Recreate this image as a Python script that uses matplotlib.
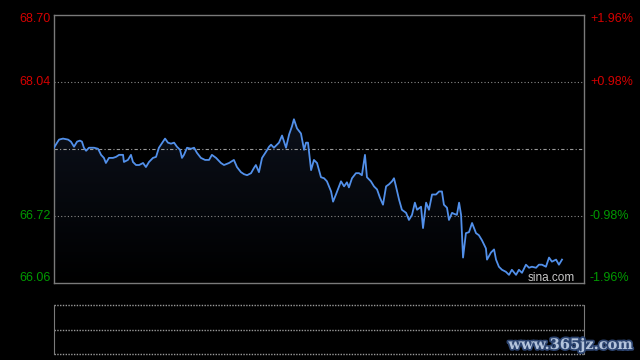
import numpy as np
import matplotlib
matplotlib.use("Agg")
import matplotlib.pyplot as plt
import matplotlib.patheffects as pe
from matplotlib.colors import LinearSegmentedColormap

# ---- data (minutes since open, price) ----
minutes = [0.0, 1.4, 2.3, 4.1, 6.4, 7.7, 9.1, 10.5, 11.8, 12.7, 13.6, 14.6, 15.9, 18.2, 20.0,
           20.5, 21.4, 22.7, 23.6, 25.0, 26.8, 28.2, 29.6, 31.4, 31.8, 33.6, 35.0, 35.9, 37.3,
           38.7, 40.5, 41.8, 43.2, 45.0, 46.4, 47.7, 49.6, 50.5, 51.8, 53.2, 54.6, 55.9, 57.3,
           58.2, 59.1, 60.5, 62.3, 63.7, 65.0, 66.8, 68.7, 70.5, 71.8, 73.7, 75.9, 77.3, 79.6,
           81.8, 83.2, 85.0, 86.4, 87.8, 89.6, 90.9, 91.8, 93.2, 94.6, 96.4, 97.8, 98.7, 100.0,
           101.4, 102.3, 103.7, 105.5, 106.9, 108.2, 109.1, 110.5, 112.3, 113.7, 114.6, 115.5,
           116.9, 118.2, 119.6, 121.4, 122.8, 124.1, 126.0, 126.9, 128.2, 130.5, 131.9, 133.2,
           134.1, 135.5, 137.3, 138.7, 140.0, 141.4, 142.3, 144.1, 145.5, 146.9, 148.2, 149.6,
           151.0, 152.3, 153.7, 154.6, 155.5, 156.9, 158.2, 160.1, 161.4, 162.8, 164.1, 165.1,
           166.9, 167.8, 169.2, 170.5, 171.9, 173.7, 175.1, 176.4, 177.3, 178.7, 179.6, 181.0,
           181.9, 183.2, 184.2, 185.1, 186.0, 187.3, 188.7, 190.1, 191.9, 193.2, 194.6, 196.4,
           196.9, 198.7, 200.1, 201.0, 202.3, 203.7, 205.5, 206.9, 208.2, 210.1, 211.4, 212.8,
           214.6, 216.0, 217.3, 219.2, 220.5, 221.9, 223.7, 225.1, 226.4, 228.3, 229.6, 231.0]
prices = [67.39, 67.44, 67.47, 67.48, 67.47, 67.45, 67.40, 67.45, 67.46, 67.45, 67.39, 67.36,
          67.39, 67.39, 67.38, 67.36, 67.32, 67.29, 67.24, 67.29, 67.29, 67.30, 67.32, 67.32,
          67.25, 67.27, 67.32, 67.25, 67.22, 67.22, 67.24, 67.20, 67.25, 67.29, 67.30, 67.39,
          67.45, 67.48, 67.44, 67.43, 67.44, 67.40, 67.37, 67.29, 67.32, 67.39, 67.38, 67.39,
          67.34, 67.29, 67.27, 67.27, 67.32, 67.29, 67.24, 67.22, 67.24, 67.27, 67.20, 67.15,
          67.13, 67.12, 67.14, 67.19, 67.22, 67.15, 67.29, 67.35, 67.40, 67.42, 67.39, 67.42,
          67.44, 67.51, 67.39, 67.52, 67.60, 67.67, 67.58, 67.53, 67.37, 67.44, 67.44, 67.17,
          67.27, 67.24, 67.10, 67.09, 67.06, 66.96, 66.86, 66.93, 67.06, 67.01, 67.05, 67.00,
          67.09, 67.14, 67.14, 67.12, 67.32, 67.10, 67.06, 67.01, 66.98, 66.90, 66.83, 67.01,
          67.03, 67.06, 67.09, 67.01, 66.88, 66.78, 66.75, 66.68, 66.73, 66.85, 66.78, 66.81,
          66.60, 66.85, 66.78, 66.93, 66.93, 66.96, 66.96, 66.83, 66.80, 66.68, 66.75, 66.74,
          66.73, 66.85, 66.73, 66.31, 66.55, 66.56, 66.65, 66.55, 66.53, 66.48, 66.40, 66.29,
          66.36, 66.39, 66.29, 66.22, 66.19, 66.17, 66.14, 66.19, 66.14, 66.19, 66.16, 66.24,
          66.21, 66.22, 66.21, 66.24, 66.24, 66.22, 66.31, 66.27, 66.29, 66.24, 66.29]

prev_close = 67.38
left_ticks = [68.70, 68.04, 66.72, 66.06]
left_labels = ["68.70", "68.04", "66.72", "66.06"]
right_labels = ["+1.96%", "+0.98%", "-0.98%", "-1.96%"]
total_minutes = 241

RED = "#d40000"
GREEN = "#009a00"
BORDER = "#7a7a7a"

fig = plt.figure(figsize=(6.4, 3.6), dpi=100, facecolor="black")
ax = fig.add_axes([54/640, 1-283/360, 530/640, (283-14.5)/360])
ax.set_facecolor("black")
ymin, ymax = left_ticks[-1], left_ticks[0]
ax.set_xlim(0, total_minutes)
ax.set_ylim(ymin, ymax)

# gradient fill under the line
cmap = LinearSegmentedColormap.from_list("g", [(0, 0, 0), (0.075, 0.105, 0.17)])
grad = np.linspace(0, 1, 256).reshape(-1, 1)
im = ax.imshow(grad, cmap=cmap, aspect="auto", origin="lower",
               extent=[0, total_minutes, ymin, ymax], zorder=1, vmin=0, vmax=1)
poly = ax.fill_between(minutes, prices, ymin, color="none", lw=0)
clip = poly.get_paths()[0]
im.set_clip_path(clip, transform=ax.transData)

# grid lines
for v in [left_ticks[1], left_ticks[2]]:
    ax.axhline(v, color="#8a8a8a", lw=0.8, ls=(0, (1, 2)), zorder=2)
ax.axhline(prev_close, color="#9a9a9a", lw=0.8, ls=(0, (3, 2, 1, 2)), zorder=2)

ax.plot(minutes, prices, color="#5290ea", lw=1.3, zorder=3, solid_joinstyle="round")

for s in ax.spines.values():
    s.set_color(BORDER)
    s.set_linewidth(1.0)
ax.set_xticks([])
ax.set_yticks([])

font = dict(family=["Liberation Sans", "DejaVu Sans"], fontsize=9)
offsets = [-5, 0, 0, 5]
colors = [RED, RED, GREEN, GREEN]
for v, lab, rlab, off, c in zip(left_ticks, left_labels, right_labels, offsets, colors):
    ax.annotate(lab, xy=(0, v), xycoords=("axes fraction", "data"),
                xytext=(-3, off), textcoords="offset pixels",
                ha="right", va="center", color=c, **font)
    ax.annotate(rlab, xy=(1, v), xycoords=("axes fraction", "data"),
                xytext=(6, off), textcoords="offset pixels",
                ha="left", va="center", color=c, **font)

ax.annotate("sina.com", xy=(0.9835, 0), xycoords="axes fraction",
            xytext=(0, 5), textcoords="offset pixels", ha="right", va="center",
            color="#c8c8c8", family=["Liberation Sans", "DejaVu Sans"], fontsize=8.5, zorder=4)

# bottom (volume) panel
ax2 = fig.add_axes([54/640, 1-354/360, 530/640, (354-305)/360])
ax2.set_facecolor("black")
ax2.set_xlim(0, total_minutes)
ax2.set_ylim(0, 2)
ax2.set_xticks([])
ax2.set_yticks([])
for k in ["top", "bottom"]:
    ax2.spines[k].set_visible(False)
for k in ["left", "right"]:
    ax2.spines[k].set_color(BORDER)
for v in [0, 1, 2]:
    ax2.axhline(v, color="#9a9a9a", lw=1.0, ls=(0, (1, 1)), clip_on=False)

fig.text(633/640, 1-345/360, "www.365jz.com", ha="right", va="center",
         color="#b4c4dc", family="DejaVu Serif", fontsize=10.5, fontweight="bold",
         path_effects=[pe.withStroke(linewidth=2.5, foreground="#2c4470")])

fig.savefig("out.png", dpi=100, facecolor="black")
